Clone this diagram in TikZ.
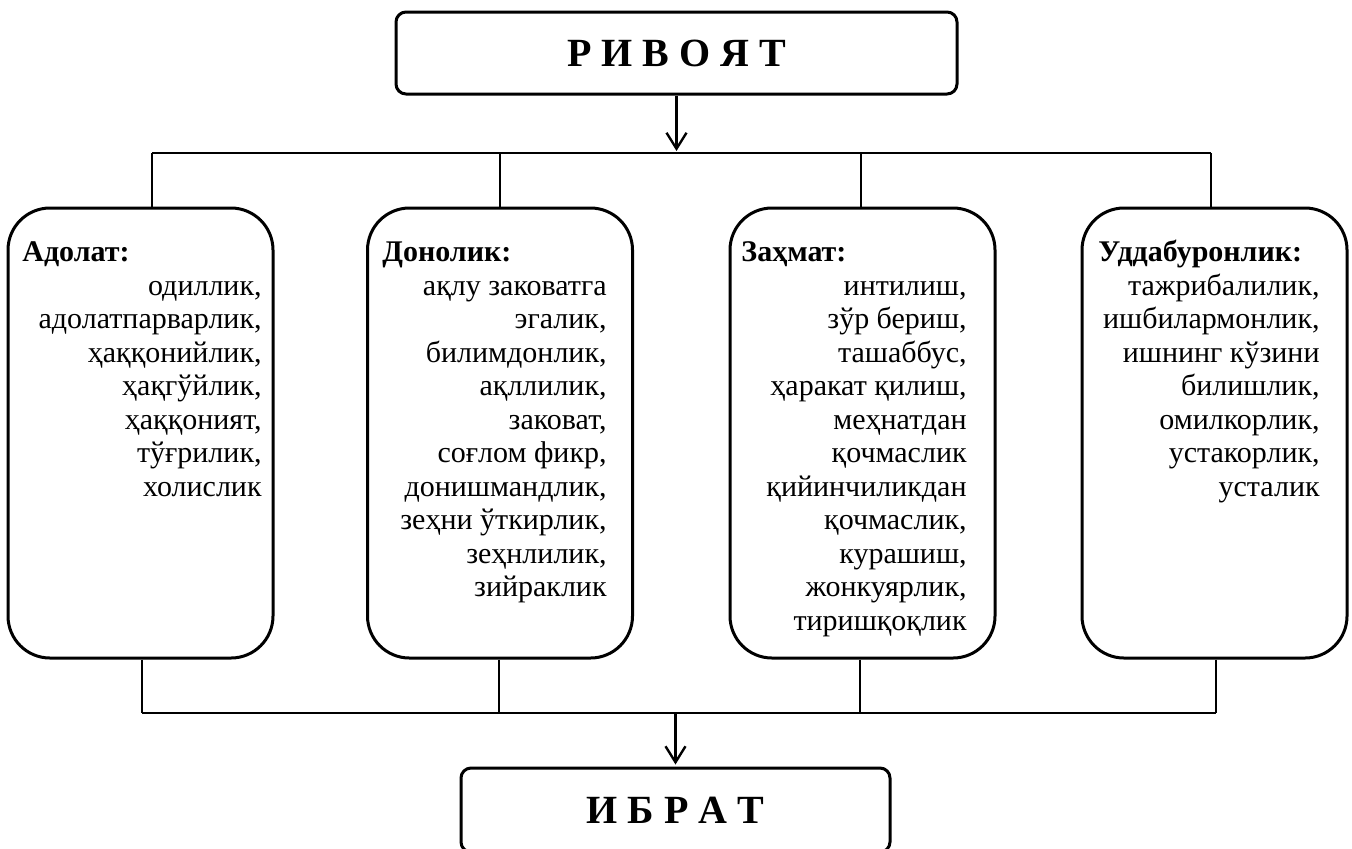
\documentclass[tikz,border=0pt]{standalone}
\usepackage{fontspec}
\setmainfont{Liberation Serif}
\usetikzlibrary{arrows.meta}
\begin{document}
\begin{tikzpicture}[x=0.5pt,y=-0.5pt,
  namebox/.style={draw, line width=1.5pt, rounded corners=5pt, minimum height=41pt, inner sep=0pt, font=\fontsize{20}{24}\selectfont\bfseries},
  card/.style={draw, line width=1.5pt, rounded corners=21pt, minimum width=132.5pt, minimum height=225pt, inner sep=0pt},
  headtxt/.style={anchor=base west, inner sep=0pt, font=\fontsize{15}{16.75}\selectfont\bfseries},
  listtxt/.style={anchor=north east, inner sep=0pt, align=right, font=\fontsize{15}{16.75}\selectfont},
  wire/.style={line width=1.2pt},
  arr/.style={line width=1.2pt, -{Straight Barb[length=8pt,width=10pt]}, shorten >=1pt}]
\useasboundingbox (0,0) rectangle (1352,848);
\node[namebox, minimum width=280.5pt] (top) at (676.5,53) {Р И В О Я Т};
\node[namebox, minimum width=214.5pt, minimum height=42pt] (bot) at (675.5,810) {И Б Р А Т};
\node[card] (box0) at (140.5,433) {};
\node[card] (box1) at (500,433) {};
\node[card] (box2) at (862.5,433) {};
\node[card] (box3) at (1214.5,433) {};
\node[headtxt] (head0) at (22,261.5) {Адолат:};
\node[listtxt] (list0) at (262,271.5) {\strut одиллик,\\адолатпарварлик,\\ҳаққонийлик,\\ҳақгўйлик,\\ҳаққоният,\\тўғрилик,\\холислик};
\node[headtxt] (head1) at (382,261.5) {Донолик:};
\node[listtxt] (list1) at (607,271.5) {\strut ақлу заковатга\\эгалик,\\билимдонлик,\\ақллилик,\\заковат,\\соғлом фикр,\\донишмандлик,\\зеҳни ўткирлик,\\зеҳнлилик,\\зийраклик};
\node[headtxt] (head2) at (741,261.5) {Заҳмат:};
\node[listtxt] (list2) at (967,271.5) {\strut интилиш,\\зўр бериш,\\ташаббус,\\ҳаракат қилиш,\\меҳнатдан\\қочмаслик\\қийинчиликдан\\қочмаслик,\\курашиш,\\жонкуярлик,\\тиришқоқлик};
\node[headtxt] (head3) at (1098,261.5) {Уддабуронлик:};
\node[listtxt] (list3) at (1320,271.5) {\strut тажрибалилик,\\ишбилармонлик,\\ишнинг кўзини\\билишлик,\\омилкорлик,\\устакорлик,\\усталик};
\coordinate (jt) at (676.5,153);
\coordinate (j0) at (152,153);
\coordinate (j1) at (500,153);
\coordinate (j2) at (861,153);
\coordinate (j3) at (1211,153);
\coordinate (kb) at (675.5,713);
\coordinate (k0) at (142,713);
\coordinate (k1) at (499,713);
\coordinate (k2) at (860,713);
\coordinate (k3) at (1216,713);
\draw[arr](top) -- (jt);
\draw[wire](j0) -- (j3);
\draw[wire](j0) -- (j0 |- box0.north);
\draw[wire](j1) -- (j1 |- box1.north);
\draw[wire](j2) -- (j2 |- box2.north);
\draw[wire](j3) -- (j3 |- box3.north);
\draw[wire](k0 |- box0.south) -- (k0);
\draw[wire](k1 |- box1.south) -- (k1);
\draw[wire](k2 |- box2.south) -- (k2);
\draw[wire](k3 |- box3.south) -- (k3);
\draw[wire](k0) -- (k3);
\draw[arr](kb) -- (bot);
\end{tikzpicture}
\end{document}
